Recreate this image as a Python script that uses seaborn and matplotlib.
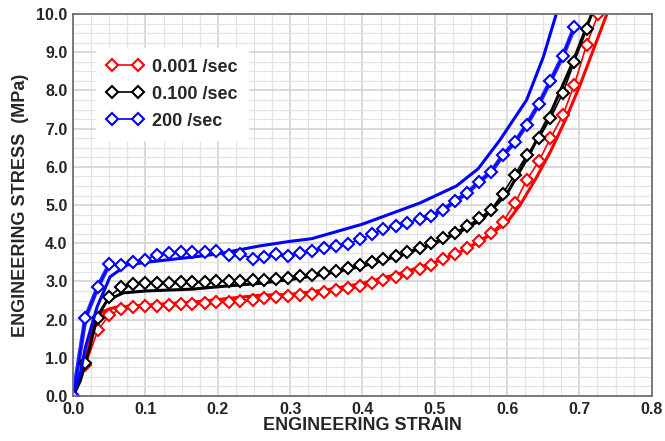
import matplotlib
matplotlib.use("Agg")
import matplotlib.pyplot as plt
from matplotlib.ticker import MultipleLocator, FormatStrFormatter
import seaborn as sns
import pandas as pd

# strain positions of the measured (marker) curves
exp_strain = [0.000, 0.017, 0.034, 0.050, 0.066, 0.083, 0.099, 0.116, 0.132, 0.149,
              0.165, 0.182, 0.198, 0.215, 0.231, 0.248, 0.264, 0.281, 0.297, 0.314,
              0.330, 0.347, 0.363, 0.380, 0.396, 0.413, 0.429, 0.446, 0.462, 0.479,
              0.495, 0.512, 0.528, 0.545, 0.561, 0.578, 0.594, 0.611, 0.627, 0.644,
              0.660, 0.677, 0.693, 0.710, 0.726]

exp_001 = [0.0, 0.8, 1.72, 2.12, 2.28, 2.34, 2.35, 2.36, 2.38, 2.40,
           2.42, 2.43, 2.45, 2.46, 2.48, 2.52, 2.56, 2.58, 2.61, 2.64,
           2.68, 2.72, 2.77, 2.82, 2.88, 2.95, 3.03, 3.12, 3.22, 3.33,
           3.44, 3.58, 3.72, 3.88, 4.06, 4.28, 4.55, 5.05, 5.65, 6.15,
           6.75, 7.35, 8.15, 9.2, 10.0]
exp_100 = [0.0, 0.86, 2.05, 2.6, 2.85, 2.93, 2.95, 2.96, 2.97, 2.98,
           2.98, 2.99, 3.0, 3.01, 3.02, 3.03, 3.05, 3.07, 3.10, 3.13,
           3.17, 3.22, 3.28, 3.35, 3.42, 3.5, 3.58, 3.67, 3.77, 3.88,
           4.0, 4.13, 4.28, 4.45, 4.65, 4.88, 5.3, 5.8, 6.3, 6.75,
           7.27, 7.93, 8.75, 9.6]
exp_200 = [0.0, 2.05, 2.85, 3.45, 3.43, 3.5, 3.57, 3.7, 3.75, 3.77,
           3.78, 3.78, 3.8, 3.7, 3.72, 3.6, 3.63, 3.72, 3.66, 3.74,
           3.8, 3.88, 3.94, 3.98, 4.1, 4.23, 4.37, 4.46, 4.53, 4.64,
           4.71, 4.88, 5.1, 5.32, 5.6, 5.87, 6.3, 6.65, 7.1, 7.65,
           8.25, 8.9, 9.65]

# model curves (solid lines)
mod_001_x = [0.0, 0.01, 0.02, 0.028, 0.037, 0.05, 0.06, 0.1, 0.166, 0.258, 0.3, 0.35,
             0.4, 0.45, 0.5, 0.535, 0.567, 0.6, 0.618, 0.64, 0.66, 0.68, 0.7, 0.72, 0.738]
mod_001_y = [0.0, 0.5, 1.2, 1.8, 2.17, 2.28, 2.33, 2.38, 2.46, 2.64, 2.66, 2.78,
             2.95, 3.2, 3.5, 3.77, 4.1, 4.55, 5.0, 5.7, 6.4, 7.2, 8.1, 9.1, 10.0]
mod_100_x = [0.0, 0.01, 0.023, 0.033, 0.047, 0.069, 0.1, 0.166, 0.2, 0.258, 0.3, 0.35,
             0.4, 0.45, 0.5, 0.535, 0.567, 0.6, 0.63, 0.66, 0.69, 0.717]
mod_100_y = [0.0, 0.4, 1.28, 2.07, 2.5, 2.7, 2.75, 2.8, 2.86, 2.95, 3.05, 3.2,
             3.4, 3.67, 4.0, 4.3, 4.65, 5.3, 6.3, 7.4, 8.7, 10.0]
mod_200_x = [0.0, 0.01, 0.017, 0.033, 0.051, 0.074, 0.1, 0.166, 0.2, 0.258, 0.3, 0.33,
             0.4, 0.479, 0.53, 0.56, 0.59, 0.627, 0.65, 0.668]
mod_200_y = [0.0, 0.6, 1.28, 2.33, 3.12, 3.43, 3.5, 3.64, 3.72, 3.93, 4.05, 4.12,
             4.5, 5.05, 5.5, 5.95, 6.7, 7.75, 8.87, 10.0]

rates = ["0.001 /sec", "0.100 /sec", "200 /sec"]
colors = ["#ff0000", "#000000", "#0000ff"]
exp_vals = [exp_001, exp_100, exp_200]
mod_vals = [(mod_001_x, mod_001_y), (mod_100_x, mod_100_y), (mod_200_x, mod_200_y)]

sns.set_style("white")
plt.rcParams["font.family"] = ["Liberation Sans", "DejaVu Sans"]
plt.rcParams["font.weight"] = "bold"

fig = plt.figure(figsize=(6.65, 4.41), dpi=100)
ax = fig.add_axes([0.11, 0.102, 0.87, 0.866])

# noisy raw high-rate record (shown as a fuzzy band in the original)
for sl in (slice(0, 4), slice(29, None)):
    raw = pd.DataFrame({"strain": exp_strain[:len(exp_200)][sl], "stress": exp_200[sl]})
    sns.lineplot(data=raw, x="strain", y="stress", ax=ax, color="#2a2aff", lw=3.2,
                 sort=False, estimator=None, label="_nolegend_")

for rate, col, ys, (mx, my) in zip(rates, colors, exp_vals, mod_vals):
    mod_df = pd.DataFrame({"strain": mx, "stress": my})
    sns.lineplot(data=mod_df, x="strain", y="stress", ax=ax, color=col, lw=2.2,
                 sort=False, estimator=None, label="_nolegend_")
    exp_df = pd.DataFrame({"strain": exp_strain[:len(ys)], "stress": ys})
    sns.lineplot(data=exp_df, x="strain", y="stress", ax=ax, color=col, lw=1.2,
                 sort=False, estimator=None, marker="D", markersize=6.3,
                 markerfacecolor="white", markeredgecolor=col, markeredgewidth=1.5,
                 label=rate)

ax.set_xlim(0, 0.8)
ax.set_ylim(0, 10)
ax.xaxis.set_major_locator(MultipleLocator(0.1))
ax.xaxis.set_minor_locator(MultipleLocator(0.025))
ax.yaxis.set_major_locator(MultipleLocator(1.0))
ax.yaxis.set_minor_locator(MultipleLocator(0.25))
ax.xaxis.set_major_formatter(FormatStrFormatter("%.1f"))
ax.yaxis.set_major_formatter(FormatStrFormatter("%.1f"))
ax.grid(which="major", color="#d0d0d0", lw=1.1)
ax.grid(which="minor", color="#e3e3e3", lw=0.9)
ax.set_axisbelow(True)
ax.tick_params(which="both", length=0, labelsize=11.5, pad=4)
for s in ax.spines.values():
    s.set_color("#707070")
    s.set_linewidth(1.3)

ax.set_xlabel("ENGINEERING STRAIN", fontsize=13, fontweight="bold", labelpad=0)
ax.set_ylabel("ENGINEERING STRESS  (MPa)", fontsize=13, fontweight="bold", labelpad=5)

leg = ax.legend(loc="upper left", bbox_to_anchor=(0.024, 0.935), numpoints=2,
                handlelength=2.0, labelspacing=0.55, handletextpad=0.5,
                fontsize=13, frameon=True, fancybox=False, framealpha=1,
                borderpad=0.6)
leg.get_frame().set_edgecolor("white")

fig.savefig("out.png", dpi=100)
